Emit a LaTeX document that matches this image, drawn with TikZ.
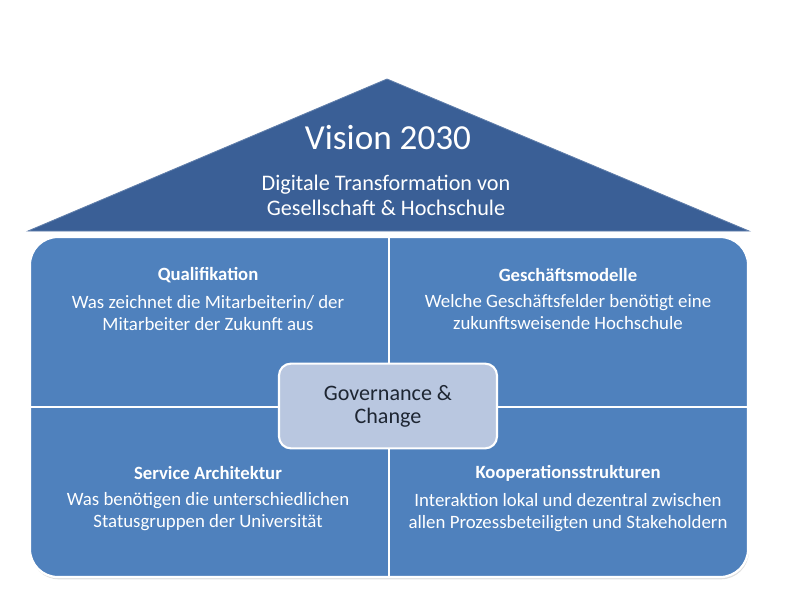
\documentclass[tikz,border=0pt]{standalone}
\usepackage{fontspec}
\setmainfont{Carlito}
\usetikzlibrary{shadows,positioning}
\definecolor{roofblue}{HTML}{3A5F96}
\definecolor{wallblue}{HTML}{4F81BD}
\definecolor{corefill}{HTML}{B9C7E0}
\definecolor{coretext}{HTML}{1E2633}
\begin{document}
\begin{tikzpicture}[x=0.025cm, y=-0.025cm,
      roof/.style={fill=roofblue, draw=roofblue!80!white, line width=0.6pt},
      wall/.style={rectangle, fill=wallblue, draw=white, line width=1.6pt,
        rounded corners=0.7cm, minimum width=17.95cm, minimum height=8.5cm,
        drop shadow={opacity=0.25, shadow xshift=0.6pt, shadow yshift=-1.6pt}},
      divider/.style={white, line width=1.4pt},
      core/.style={rectangle, fill=corefill, draw=white, line width=1.5pt,
        rounded corners=0.3cm, minimum width=5.45cm, minimum height=2.12cm,
        align=center, text=coretext, font=\fontsize{15.7}{16.5}\selectfont},
      headline/.style={text=white, font=\fontsize{25}{30}\selectfont},
      subline/.style={text=white, align=center, font=\fontsize{15.8}{17.7}\selectfont},
      pillar/.style={text=white, font=\fontsize{13.3}{15}\selectfont\bfseries},
      detail/.style={text=white, align=center, font=\fontsize{13.4}{15.6}\selectfont}
    ]
    \useasboundingbox (0,0) rectangle (800,599);

    % Roof: vision
    \coordinate (eaveL) at (28,231);
    \coordinate (apex) at (387,79);
    \coordinate (eaveR) at (749,231);
    \draw[roof] (eaveL) -- (apex) -- (eaveR) -- cycle;
    \node[headline] (vision) at (388,138) {Vision 2030};
    \node[subline] (digital) at (386,195)
      {Digitale Transformation von\\Gesellschaft \& Hochschule};

    % House body with four fields
    \node[wall] (body) at (389,407) {};
    \draw[divider] (body.north) -- (body.south);
    \draw[divider] (body.west) -- (body.east);

    % Upper fields
    \node[pillar] (quali) at (208,275) {Qualifikation};
    \node[detail, below=2pt of quali] (qualitxt)
      {Was zeichnet die Mitarbeiterin/ der\\Mitarbeiter der Zukunft aus};
    \node[pillar] (business) at (568,275) {Geschäftsmodelle};
    \node[detail, below=2pt of business] (businesstxt)
      {Welche Geschäftsfelder benötigt eine\\zukunftsweisende Hochschule};

    % Lower fields
    \node[pillar] (service) at (208,473) {Service Architektur};
    \node[detail, below=2pt of service] (servicetxt)
      {Was benötigen die unterschiedlichen\\Statusgruppen der Universität};
    \node[pillar] (coop) at (568,473) {Kooperationsstrukturen};
    \node[detail, below=2pt of coop] (cooptxt)
      {Interaktion lokal und dezentral zwischen\\allen Prozessbeteiligten und Stakeholdern};

    % Centre: governance
    \node[core] (gov) at (388,406) {Governance \&\\Change};
  \end{tikzpicture}
\end{document}
